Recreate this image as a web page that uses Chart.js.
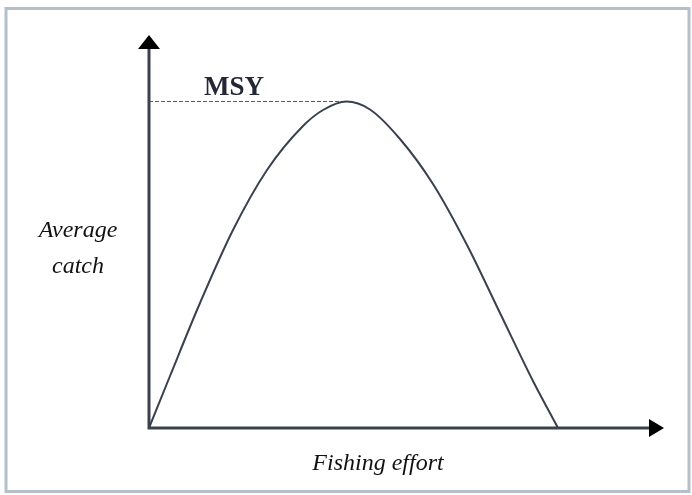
<!DOCTYPE html>
<html>
<head>
<meta charset="utf-8">
<script src="https://cdn.jsdelivr.net/npm/chart.js@4.4.0/dist/chart.umd.min.js"></script>
<style>
  html, body { margin: 0; padding: 0; background: #fff; }
  #wrap { width: 692px; height: 495px; }
</style>
</head>
<body>
<div id="wrap"><canvas id="chart" width="692" height="495"></canvas></div>
<script>
// effort (x) and average catch (y)
const effort = [0, 21, 51, 84, 118, 154, 174, 197.5, 221, 251, 284, 318, 351, 384, 409];
const catchValues = [0, 52, 125, 198, 258, 302, 318, 326.5, 318.5, 289, 244, 183, 115, 47, 0];
const msyEffort = [0, 197.5];
const msyCatch = [326.5, 326.5];

const X_MAX = 501;
const Y_MAX = 380;

const curvePoints = effort.map((x, i) => ({ x: x, y: catchValues[i] }));
const msyPoints = msyEffort.map((x, i) => ({ x: x, y: msyCatch[i] }));

const axisColor = "#3b404d";

const decorations = {
  id: "decorations",
  beforeDraw(chart) {
    const c = chart.ctx;
    c.save();
    c.fillStyle = "#fff";
    c.fillRect(0, 0, chart.width, chart.height);
    // outer frame
    c.strokeStyle = "#b3c0c9";
    c.lineWidth = 3;
    c.strokeRect(6, 8.5, 683, 483);
    c.restore();
  },
  afterDraw(chart) {
    const c = chart.ctx;
    const a = chart.chartArea;
    const xs = chart.scales.x;
    const ys = chart.scales.y;
    c.save();
    // axis lines
    c.strokeStyle = axisColor;
    c.lineWidth = 3;
    c.beginPath();
    c.moveTo(a.left, a.top);
    c.lineTo(a.left, a.bottom);
    c.lineTo(a.right, a.bottom);
    c.stroke();
    // arrow heads
    c.fillStyle = "#000";
    c.beginPath();
    c.moveTo(a.left - 11, a.top + 1);
    c.lineTo(a.left + 11, a.top + 1);
    c.lineTo(a.left, a.top - 13);
    c.closePath();
    c.fill();
    c.beginPath();
    c.moveTo(a.right - 1, a.bottom - 9);
    c.lineTo(a.right - 1, a.bottom + 9);
    c.lineTo(a.right + 14, a.bottom);
    c.closePath();
    c.fill();
    // labels
    c.fillStyle = "#232835";
    c.font = "bold 27px 'Liberation Serif', serif";
    c.textAlign = "center";
    c.textBaseline = "alphabetic";
    c.fillText("MSY", xs.getPixelForValue(85), ys.getPixelForValue(333));
    c.fillStyle = "#111";
    c.font = "italic 24px 'Liberation Serif', serif";
    c.fillText("Average", 78, 237);
    c.fillText("catch", 78, 273);
    c.fillText("Fishing effort", 378, 470);
    c.restore();
  }
};

new Chart(document.getElementById("chart"), {
  type: "line",
  data: {
    datasets: [
      {
        label: "Average catch",
        data: curvePoints,
        borderColor: "#3a404f",
        borderWidth: 2,
        pointRadius: 0,
        cubicInterpolationMode: "monotone",
        fill: false,
      },
      {
        label: "MSY",
        data: msyPoints,
        borderColor: "#4d5b82",
        borderWidth: 1.2,
        borderDash: [4, 2],
        pointRadius: 0,
        fill: false,
      },
    ],
  },
  options: {
    responsive: false,
    animation: false,
    layout: { padding: { left: 149, right: 42, top: 48, bottom: 67 } },
    plugins: { legend: { display: false }, tooltip: { enabled: false } },
    scales: {
      x: {
        type: "linear",
        min: 0,
        max: X_MAX,
        grid: { display: false },
        border: { display: false },
        ticks: { display: false },
        afterFit: (s) => { s.height = 0; },
      },
      y: {
        type: "linear",
        min: 0,
        max: Y_MAX,
        grid: { display: false },
        border: { display: false },
        ticks: { display: false },
        afterFit: (s) => { s.width = 0; },
      },
    },
  },
  plugins: [decorations],
});
</script>
</body>
</html>
